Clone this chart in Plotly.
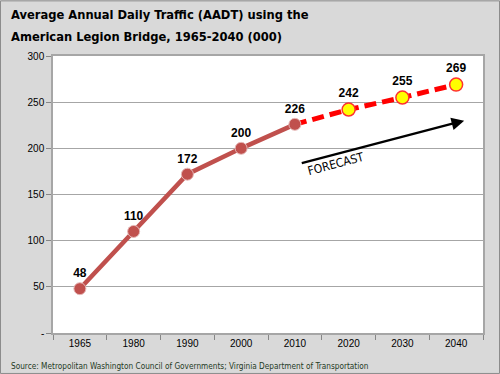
import plotly.graph_objects as go

years = ["1965", "1980", "1990", "2000", "2010", "2020", "2030", "2040"]
hist_years = ["1965", "1980", "1990", "2000", "2010"]
hist_vals = [48, 110, 172, 200, 226]
fc_years = ["2010", "2020", "2030", "2040"]
fc_vals = [226, 242, 255, 269]
y_ticks = [0, 50, 100, 150, 200, 250, 300]
y_labels = ["-", "50", "100", "150", "200", "250", "300"]

title_lines = ["Average Annual Daily Traffic (AADT) using the",
               "American Legion Bridge, 1965-2040 (000)"]
source_text = "Source: Metropolitan Washington Council of Governments; Virginia Department of Transportation"

FONT = "DejaVu Sans Condensed, Liberation Sans, sans-serif"
LAB = "Liberation Sans, sans-serif"

PW, PH = 430, 277.3  # plot area size in px
T = 56  # top margin

fig = go.Figure()
fig.add_trace(go.Scatter(
    x=fc_years, y=fc_vals, mode="lines",
    line=dict(color="#FF0000", width=5, dash="12px,6px"),
    hoverinfo="skip", showlegend=False))
fig.add_trace(go.Scatter(
    x=hist_years, y=hist_vals, mode="lines+markers+text",
    line=dict(color="#C0504D", width=4.5),
    marker=dict(size=12, color="#C0504D", line=dict(color="#E6B9B8", width=1)),
    text=[str(v) for v in hist_vals], textposition="top center",
    textfont=dict(family=LAB, size=12, color="black", weight="bold"),
    showlegend=False))
fig.add_trace(go.Scatter(
    x=fc_years[1:], y=fc_vals[1:], mode="markers+text",
    marker=dict(size=13, color="#FFFF00", line=dict(color="#FF3030", width=1.5)),
    text=[str(v) for v in fc_vals[1:]], textposition="top center",
    textfont=dict(family=LAB, size=12, color="black", weight="bold"),
    showlegend=False))

fig.add_annotation(x=7.15, y=230, ax=4.1, ay=183.5, xref="x", yref="y",
                   axref="x", ayref="y", text="", showarrow=True,
                   arrowhead=2, arrowsize=1.1, arrowwidth=2.3, arrowcolor="black")
fig.add_annotation(x=4.76, y=183, xref="x", yref="y", text="FORECAST",
                   showarrow=False, textangle=-15,
                   font=dict(family=FONT, size=12, color="black"))

# title (two lines)
for line, yc in zip(title_lines, [14, 36]):
    fig.add_annotation(x=-44/PW, y=1 + (T - yc)/PH, xref="paper", yref="paper",
                       text="<b>" + line + "</b>", showarrow=False, align="left",
                       xanchor="left", yanchor="middle",
                       font=dict(family=FONT, size=12.8, color="black"))
# source
fig.add_annotation(x=-44/PW, y=-33/PH, xref="paper", yref="paper",
                   text=source_text, showarrow=False, xanchor="left", yanchor="middle",
                   font=dict(family=FONT, size=8.2, color="#1F3A1F"))

fig.update_layout(
    width=500, height=374,
    margin=dict(l=53, r=17, t=T, b=41),
    paper_bgcolor="#D9D9D9", plot_bgcolor="white",
    xaxis=dict(type="category", categoryorder="array", categoryarray=years,
               range=[-0.5, 7.5], tickson="boundaries", ticks="outside",
               ticklen=5, tickcolor="#868686", showline=True, linecolor="#A6A6A6",
               linewidth=1.5, mirror=True, showgrid=False,
               tickfont=dict(family=LAB, size=10, color="black")),
    yaxis=dict(range=[0, 300], tickvals=y_ticks, ticktext=y_labels,
               ticks="outside", ticklen=5, tickcolor="#868686",
               showline=True, linecolor="#A6A6A6", linewidth=1.5, mirror=True,
               showgrid=True, gridcolor="#A6A6A6", gridwidth=1, zeroline=False,
               tickfont=dict(family=LAB, size=10, color="black")),
    shapes=[dict(type="rect", xref="paper", yref="paper",
                 x0=-52.5/PW, x1=446.5/PW, y0=-40.5/PH, y1=332.5/PH,
                 line=dict(color="#8C8C8C", width=1))],
)
fig.write_html("out.html", config={"displayModeBar": False},
               post_script="document.body.style.margin='0';document.body.style.overflow='hidden';")
